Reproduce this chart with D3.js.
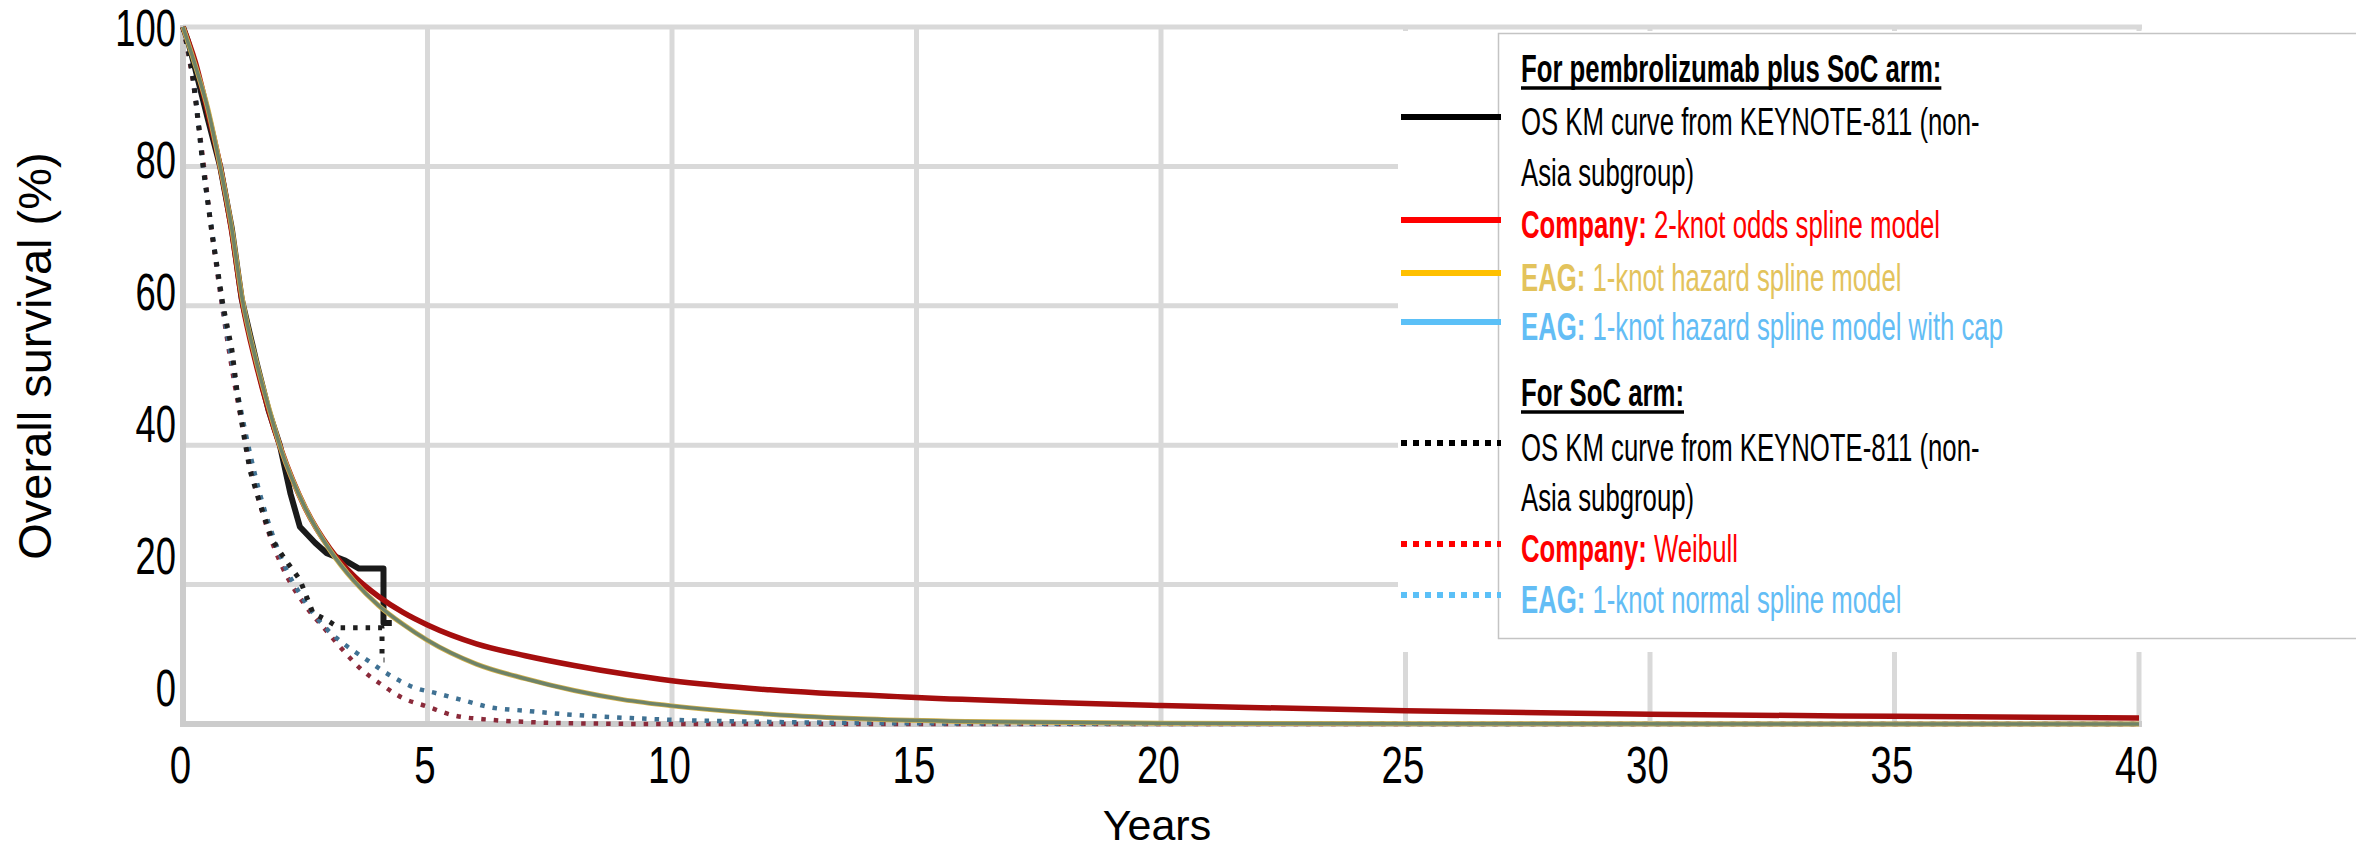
<!DOCTYPE html>
<html>
<head>
<meta charset="utf-8">
<script src="https://cdn.jsdelivr.net/npm/d3@7"></script>
<style>
  html, body { margin: 0; padding: 0; background: #ffffff; }
  svg { display: block; font-family: "Liberation Sans", Arial, sans-serif; }
</style>
</head>
<body>
<svg id="chart" width="2356" height="849"></svg>
<script>
// ---- axis ticks ----
const xTicks = [0, 5, 10, 15, 20, 25, 30, 35, 40];
const yTicks = [0, 20, 40, 60, 80, 100];

// ---- pembrolizumab plus SoC arm: [years, OS %] ----
const kmPembro = [[0,100],[0.1,98],[0.25,94],[0.5,87],[0.76,80],[1.0,71],[1.2,61],[1.5,52],[1.75,45],[1.98,40],[2.2,33],[2.39,28.3],[2.7,26],[2.94,24.5],[3.3,23.5],[3.6,22.3],[4.1,22.3],[4.1,14.5],[4.27,14.5]];
const companyOddsSpline = [[0,100],[0.25,95],[0.5,88],[0.76,80],[1.0,70.5],[1.2,61],[1.5,51.5],[1.75,45],[2.0,39.5],[2.5,31],[3.0,25.2],[3.5,21.2],[4.0,18.3],[4.5,16],[5,14.2],[6,11.5],[7,9.8],[8,8.4],[9,7.2],[10,6.2],[12,4.9],[15,3.8],[20,2.65],[25,1.9],[30,1.4],[35,1.1],[40,0.85]];
const eagHazardSpline = [[0,100],[0.25,94.5],[0.5,88.5],[0.76,80],[1.0,71],[1.2,61.5],[1.5,52],[1.75,45.5],[2.0,39.5],[2.5,31],[3.0,25],[3.5,20.5],[4.0,17],[4.5,14.3],[5,12],[6,8.6],[7,6.5],[8,4.8],[9,3.5],[10,2.6],[12,1.4],[14,0.7],[16,0.35],[20,0.1],[25,0.03],[40,0]];
const eagHazardSplineCap = [[0,100],[0.25,94.5],[0.5,88.5],[0.76,80],[1.0,71],[1.2,61.5],[1.5,52],[1.75,45.5],[2.0,39.5],[2.5,31],[3.0,25],[3.5,20.5],[4.0,17],[4.5,14.3],[5,12],[6,8.6],[7,6.5],[8,4.8],[9,3.5],[10,2.6],[12,1.4],[14,0.7],[16,0.35],[20,0.1],[25,0.03],[40,0]];

// ---- SoC arm: [years, OS %] ----
const kmSoc = [[0,100],[0.1,97],[0.2,93],[0.3,87],[0.41,80],[0.6,70],[0.82,60],[1.0,53.7],[1.1,48],[1.23,42],[1.37,36.4],[1.57,31.7],[1.82,26.4],[2.1,23.5],[2.39,20.7],[2.66,15.9],[2.94,14.9],[3.2,13.8],[4.07,13.8],[4.07,9.2],[4.12,9.2]];
const companyWeibull = [[0,100],[0.25,90],[0.41,81],[0.6,70],[0.82,59],[1.0,51],[1.25,41.5],[1.5,33.5],[1.75,27.5],[2.0,23],[2.5,17],[2.94,13.3],[3.27,10.6],[3.62,8],[4.07,5.6],[4.5,3.7],[5,2.5],[5.5,1.3],[6.3,0.6],[7,0.3],[8,0.1],[10,0],[40,0]];
const eagNormalSpline = [[0,100],[0.25,90.5],[0.41,80],[0.6,70.5],[0.82,59.5],[1.0,52],[1.5,35],[2.0,24],[2.5,17.5],[3.0,13.2],[3.27,11.6],[3.76,9.2],[4.23,7.0],[4.7,5.3],[5.19,4.4],[5.73,3.4],[6.28,2.4],[7,1.9],[8,1.3],[9,0.9],[10,0.6],[12,0.3],[15,0.1],[20,0.03],[40,0]];

const W = 2356, H = 849;
const svg = d3.select("#chart");

const x = d3.scaleLinear().domain([0, 40]).range([183, 2139]);
const y = d3.scaleLinear().domain([0, 100]).range([724, 27]);
// tick labels on the value axis sit on their own, slightly tighter spacing
const yLabel = d3.scaleLinear().domain([0, 100]).range([687, 27]);

const gridColor = "#d9d9d9";

// ---- gridlines ----
const grid = svg.append("g");
grid.selectAll("line.h").data(yTicks.filter(d => d > 0)).join("line")
  .attr("x1", x(0)).attr("x2", x(40) + 3)
  .attr("y1", d => y(d)).attr("y2", d => y(d))
  .attr("stroke", gridColor).attr("stroke-width", 5);
grid.selectAll("line.v").data(xTicks.filter(d => d > 0)).join("line")
  .attr("x1", d => x(d)).attr("x2", d => x(d))
  .attr("y1", y(100)).attr("y2", y(0))
  .attr("stroke", gridColor).attr("stroke-width", 5);

// white panel behind the legend (keeps the top gridline visible)
svg.append("rect")
  .attr("x", 1398).attr("y", 31).attr("width", W - 1398).attr("height", 652 - 31)
  .attr("fill", "#ffffff");

// axis lines
svg.append("line").attr("x1", x(0)).attr("x2", x(0)).attr("y1", y(100) - 2).attr("y2", y(0) + 3)
  .attr("stroke", "#cccccc").attr("stroke-width", 6);
svg.append("line").attr("x1", x(0) - 3).attr("x2", x(40) + 3).attr("y1", y(0)).attr("y2", y(0))
  .attr("stroke", "#cccccc").attr("stroke-width", 6);

// ---- tick labels via d3 axes ----
const xAxis = svg.append("g").attr("transform", `translate(0, ${y(0)})`)
  .call(d3.axisBottom(x).tickValues(xTicks).tickSize(0).tickPadding(22));
xAxis.select(".domain").remove();
xAxis.selectAll("text")
  .attr("font-size", 52).attr("fill", "#000")
  .attr("font-family", "Liberation Sans, Arial, sans-serif")
  .attr("transform", "translate(-3,0) scale(0.74,1)");

const yAxis = svg.append("g").attr("transform", `translate(176, 0)`)
  .call(d3.axisLeft(yLabel).tickValues(yTicks).tickSize(0).tickPadding(0));
yAxis.select(".domain").remove();
yAxis.selectAll("text")
  .attr("font-size", 52).attr("fill", "#000")
  .attr("font-family", "Liberation Sans, Arial, sans-serif")
  .attr("transform", "translate(0,2) scale(0.7,1)");

// axis titles
svg.append("text").attr("x", 1157).attr("y", 840).attr("text-anchor", "middle")
  .attr("font-size", 43).attr("fill", "#000").text("Years");
svg.append("text")
  .attr("transform", "translate(51,356) rotate(-90)")
  .attr("text-anchor", "middle").attr("font-size", 47).attr("fill", "#000")
  .text("Overall survival (%)");

// ---- curves ----
const smooth = d3.line().x(d => x(d[0])).y(d => y(d[1])).curve(d3.curveMonotoneX);
const stepPath = d3.line().x(d => x(d[0])).y(d => y(d[1]));
const curves = svg.append("g").attr("fill", "none").attr("stroke-linejoin", "round");

const dotted = "4.5 8";
curves.append("path").attr("d", smooth(companyWeibull))
  .attr("stroke", "#8a2a3a").attr("stroke-width", 4.5).attr("stroke-dasharray", dotted);
curves.append("path").attr("d", smooth(eagNormalSpline))
  .attr("stroke", "#3f7193").attr("stroke-width", 4.5).attr("stroke-dasharray", dotted);
curves.append("path").attr("d", stepPath(kmSoc))
  .attr("stroke", "#1e1e1e").attr("stroke-width", 5).attr("stroke-dasharray", dotted);

curves.append("path").attr("d", stepPath(kmPembro))
  .attr("stroke", "#1a1a1a").attr("stroke-width", 6);
curves.append("path").attr("d", smooth(companyOddsSpline))
  .attr("stroke", "#a50e0e").attr("stroke-width", 5.5);
curves.append("path").attr("d", smooth(eagHazardSpline))
  .attr("stroke", "#d4b24c").attr("stroke-width", 5);
curves.append("path").attr("d", smooth(eagHazardSplineCap))
  .attr("stroke", "#6e8368").attr("stroke-width", 3.5);

// ---- legend ----
svg.append("rect")
  .attr("x", 1498.5).attr("y", 33.5).attr("width", W).attr("height", 638 - 33)
  .attr("fill", "#ffffff").attr("stroke", "#c4c4c4").attr("stroke-width", 1.5);

const legendRows = [
  { kind: "head", text: "For pembrolizumab  plus SoC arm:", cy: 68 },
  { kind: "item", bold: "", text: "OS KM curve from KEYNOTE-811 (non-", color: "#000000", swatch: "#000000", dash: null, cy: 121 },
  { kind: "text", text: "Asia subgroup)", color: "#000000", cy: 172 },
  { kind: "item", bold: "Company: ", text: "2-knot odds spline model", color: "#ff0000", swatch: "#ff0000", dash: null, cy: 224 },
  { kind: "item", bold: "EAG: ", text: "1-knot hazard spline model", color: "#e3c35c", swatch: "#ffc000", dash: null, cy: 277 },
  { kind: "item", bold: "EAG: ", text: "1-knot hazard spline model with cap", color: "#63bdf5", swatch: "#5bc0f7", dash: null, cy: 326 },
  { kind: "head", text: "For SoC arm:", cy: 392 },
  { kind: "item", bold: "", text: "OS KM curve from KEYNOTE-811 (non-", color: "#000000", swatch: "#000000", dash: "6 6", cy: 447 },
  { kind: "text", text: "Asia subgroup)", color: "#000000", cy: 497 },
  { kind: "item", bold: "Company: ", text: "Weibull", color: "#ff0000", swatch: "#ff0000", dash: "6 6", cy: 548 },
  { kind: "item", bold: "EAG: ", text: "1-knot normal spline model", color: "#63bdf5", swatch: "#5bc0f7", dash: "6 6", cy: 599 }
];
const swatchOffset = -4;
const legend = svg.append("g");
legend.selectAll("line.sw").data(legendRows.filter(r => r.kind === "item")).join("line")
  .attr("x1", 1401).attr("x2", 1501)
  .attr("y1", r => r.cy + swatchOffset).attr("y2", r => r.cy + swatchOffset)
  .attr("stroke", r => r.swatch).attr("stroke-width", 6)
  .attr("stroke-dasharray", r => r.dash);

const fs = 39, sx = 0.66, tx = 1521;
const textG = legend.append("g").attr("transform", `translate(${tx},0) scale(${sx},1)`);
legendRows.forEach(r => {
  const base = r.cy + fs * 0.36;
  const t = textG.append("text").attr("x", 0).attr("y", base).attr("font-size", fs);
  if (r.kind === "head") {
    t.attr("font-weight", "bold").attr("fill", "#000").text(r.text);
    const w = t.node().getComputedTextLength();
    textG.append("line").attr("x1", 0).attr("x2", w)
      .attr("y1", base + 6).attr("y2", base + 6)
      .attr("stroke", "#000").attr("stroke-width", 3.5);
  } else if (r.kind === "text") {
    t.attr("fill", r.color).text(r.text);
  } else {
    if (r.bold) t.append("tspan").attr("font-weight", "bold").attr("fill", r.color).text(r.bold);
    t.append("tspan").attr("fill", r.color).text(r.text);
  }
});
</script>
</body>
</html>
